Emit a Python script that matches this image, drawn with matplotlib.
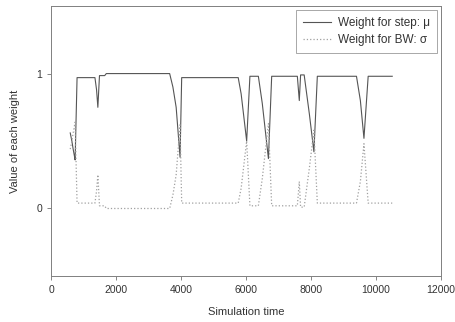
import matplotlib
matplotlib.use("Agg")
import matplotlib.pyplot as plt

# weight for step (mu) key points
mu_t = [590, 640, 680, 710, 740, 800, 1350, 1400, 1440, 1490, 1650, 1700,
        3650, 3750, 3850, 3970, 4020, 5760, 5850, 6020, 6120, 6380, 6500, 6690,
        6790, 7580, 7640, 7680, 7790, 7950, 8090, 8195, 9400, 9520, 9630, 9760, 10500]
mu_v = [0.56, 0.50, 0.44, 0.40, 0.36, 0.97, 0.97, 0.88, 0.75, 0.985, 0.985, 1.0,
        1.0, 0.90, 0.75, 0.38, 0.97, 0.97, 0.85, 0.50, 0.98, 0.98, 0.78, 0.37,
        0.98, 0.98, 0.80, 0.99, 0.99, 0.70, 0.42, 0.98, 0.98, 0.80, 0.52, 0.98, 0.98]

# weight for BW (sigma) key points
sig_t = [590, 640, 680, 710, 740, 800, 1350, 1400, 1440, 1490, 1650, 1700,
         3650, 3750, 3850, 3970, 4020, 5760, 5850, 6020, 6120, 6380, 6500, 6690,
         6790, 7580, 7640, 7680, 7790, 7950, 8090, 8195, 9400, 9520, 9630, 9760, 10500]
sig_v = [0.44, 0.50, 0.56, 0.60, 0.64, 0.04, 0.04, 0.13, 0.25, 0.02, 0.02, 0.0,
         0.0, 0.10, 0.25, 0.62, 0.04, 0.04, 0.15, 0.50, 0.02, 0.02, 0.22, 0.63,
         0.02, 0.02, 0.20, 0.01, 0.01, 0.30, 0.58, 0.04, 0.04, 0.20, 0.48, 0.04, 0.04]

x_ticks = [0, 2000, 4000, 6000, 8000, 10000, 12000]
y_ticks = [0, 1]

plt.rcParams["font.family"] = ["Liberation Sans", "DejaVu Sans"]

fig = plt.figure(figsize=(4.56, 3.22), dpi=100)
ax = fig.add_axes([0.112, 0.143, 0.855, 0.838])

ax.plot(mu_t, mu_v, color="#555555", lw=0.8, label="Weight for step: \u03bc")
ax.plot(sig_t, sig_v, color="#a0a0a0", lw=0.9, ls=":", label="Weight for BW: \u03c3")

ax.set_xlim(0, 12000)
ax.set_ylim(-0.5, 1.5)
ax.set_xticks(x_ticks)
ax.set_yticks(y_ticks)
ax.tick_params(labelsize=7.5, length=3, width=0.6, color="#707070", labelcolor="#333333")
for s in ax.spines.values():
    s.set_color("#808080")
    s.set_linewidth(0.7)

ax.set_xlabel("Simulation time", fontsize=8, color="#333333", labelpad=9)
ax.set_ylabel("Value of each weight", fontsize=8, color="#333333", labelpad=12)

leg = ax.legend(loc="upper right", fontsize=8.5, frameon=True, fancybox=False,
                edgecolor="#808080", borderaxespad=0.3, handlelength=2.4,
                borderpad=0.6, labelspacing=0.45, handletextpad=0.6)
leg.get_frame().set_linewidth(0.6)
for t in leg.get_texts():
    t.set_color("#333333")

fig.savefig("out.png", dpi=100)
